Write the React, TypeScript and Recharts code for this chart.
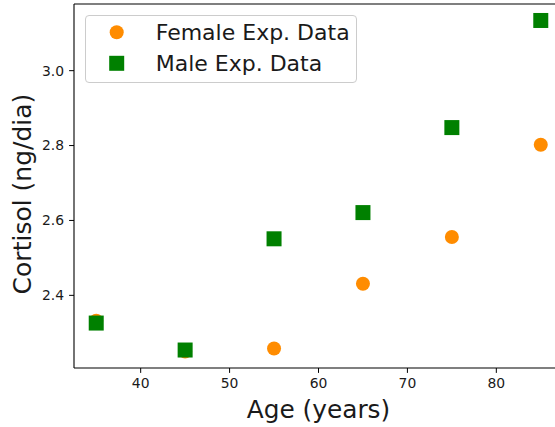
import React from "react";
import { ScatterChart, Scatter, XAxis, YAxis, Legend, ReferenceLine } from "recharts";

const ages = [35, 45, 55, 65, 75, 85];
const femaleCortisol = [2.332, 2.25, 2.258, 2.431, 2.556, 2.802];
const maleCortisol = [2.326, 2.254, 2.551, 2.621, 2.848, 3.134];
const xTicks = [40, 50, 60, 70, 80];
const yTicks = [2.4, 2.6, 2.8, 3.0];

const femaleData = ages.map((age, i) => ({ age, value: femaleCortisol[i] }));
const maleData = ages.map((age, i) => ({ age, value: maleCortisol[i] }));

const X_DOMAIN: [number, number] = [32.5, 87.5];
const Y_DOMAIN: [number, number] = [2.206, 3.178];

const FONT = "'DejaVu Sans', sans-serif";
const ORANGE = "#ff8c00";
const GREEN = "#008000";

const tickStyle = { fontFamily: FONT, fontSize: 13.9, fill: "#1a1a1a" };

const Circle = (p: any) => <circle cx={p.cx} cy={p.cy} r={7} fill={ORANGE} />;
const Square = (p: any) => (
  <rect x={p.cx - 7.5} y={p.cy - 7.5} width={15} height={15} fill={GREEN} />
);

const XLabel = ({ viewBox }: any) => (
  <text
    x={viewBox.x + viewBox.width / 2}
    y={418}
    textAnchor="middle"
    fontFamily={FONT}
    fontSize={24.8}
    fill="#1a1a1a"
  >
    Age (years)
  </text>
);

const YLabel = ({ viewBox }: any) => {
  const cy = viewBox.y + viewBox.height / 2 + 8;
  return (
    <text
      x={31}
      y={cy}
      transform={`rotate(-90, 31, ${cy})`}
      textAnchor="middle"
      fontFamily={FONT}
      fontSize={25}
      fill="#1a1a1a"
    >
      Cortisol (ng/dia)
    </text>
  );
};

const LegendBox = () => (
  <div
    style={{
      width: 270,
      height: 66,
      border: "1px solid #cccccc",
      borderRadius: 4,
      background: "rgba(255,255,255,0.8)",
    }}
  >
    <svg width={270} height={66} style={{ display: "block" }}>
      <circle cx={30.7} cy={16.3} r={7} fill={ORANGE} />
      <text x={69.7} y={24} fontFamily={FONT} fontSize={22} fill="#1a1a1a">
        Female Exp. Data
      </text>
      <rect x={23.2} y={39.8} width={15} height={15} fill={GREEN} />
      <text x={69.7} y={54.7} fontFamily={FONT} fontSize={22} fill="#1a1a1a">
        Male Exp. Data
      </text>
    </svg>
  </div>
);

export default function App() {
  return (
    <div
      style={{
        position: "absolute",
        left: 0,
        top: 0,
        width: 555,
        height: 427,
        overflow: "hidden",
        background: "#fff",
      }}
    >
      <ScatterChart
        width={570}
        height={427}
        margin={{ top: 4, right: 7, bottom: 0, left: 0 }}
      >
        <XAxis
          dataKey="age"
          type="number"
          domain={X_DOMAIN}
          ticks={xTicks}
          allowDataOverflow
          height={59}
          tickSize={4.9}
          tickMargin={5}
          tick={tickStyle}
          stroke="#000"
          axisLine={{ stroke: "#000", strokeWidth: 1.1 }}
          tickLine={{ stroke: "#000" }}
          label={<XLabel />}
        />
        <YAxis
          dataKey="value"
          type="number"
          domain={Y_DOMAIN}
          ticks={yTicks}
          allowDataOverflow
          width={74}
          tickSize={4.9}
          tickMargin={5}
          tick={tickStyle}
          tickFormatter={(v: number) => v.toFixed(1)}
          axisLine={{ stroke: "#000", strokeWidth: 1.1 }}
          tickLine={{ stroke: "#000" }}
          label={<YLabel />}
        />
        <ReferenceLine y={Y_DOMAIN[1]} stroke="#000" strokeWidth={1.1} />
        <ReferenceLine x={X_DOMAIN[1]} stroke="#000" strokeWidth={1.1} />
        <Legend
          layout="vertical"
          align="center"
          verticalAlign="middle"
          content={<LegendBox />}
          wrapperStyle={{ left: 85, top: 15, width: "auto", height: "auto" }}
        />
        <Scatter
          name="Female Exp. Data"
          data={femaleData}
          shape={Circle}
          isAnimationActive={false}
        />
        <Scatter
          name="Male Exp. Data"
          data={maleData}
          shape={Square}
          isAnimationActive={false}
        />
      </ScatterChart>
    </div>
  );
}
